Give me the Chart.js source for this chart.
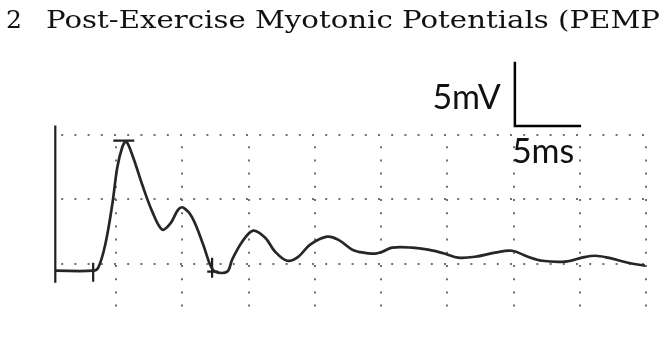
<!DOCTYPE html>
<html>
<head>
<meta charset="utf-8">
<script src="https://cdn.jsdelivr.net/npm/chart.js@4"></script>
<style>
  html, body { margin: 0; padding: 0; background: #fff; }
  #wrap { width: 666px; height: 346px; }
</style>
</head>
<body>
<div id="wrap"><canvas id="pempChart" width="666" height="346"></canvas></div>
<script>
// trace: time in ms, amplitude in mV
const waveT = [0.40, 3.26, 3.64, 4.17, 4.70, 5.08, 5.45, 5.75, 6.28, 6.96, 7.72, 8.47, 9.08, 9.68, 10.06,
  10.74, 11.57, 12.09, 12.47, 13.38, 13.75, 14.51, 15.34, 16.25, 17.00, 17.91, 18.74, 19.64, 20.92, 21.75,
  22.81, 23.27, 24.55, 25.08, 25.83, 27.34, 28.55, 29.83, 30.81, 32.09, 33.60, 34.88, 36.09, 37.15, 38.89,
  40.17, 41.15, 42.13, 43.64, 44.93];
const waveV = [-0.54, -0.54, -0.31, 1.48, 4.59, 7.47, 9.03, 9.49, 8.25, 6.15, 4.05, 2.65, 3.11, 4.20, 4.36,
  3.58, 1.48, -0.08, -0.62, -0.62, 0.31, 1.71, 2.57, 2.02, 0.93, 0.23, 0.54, 1.48, 2.10, 1.87,
  1.09, 0.93, 0.78, 0.93, 1.25, 1.25, 1.09, 0.78, 0.47, 0.54, 0.86, 1.01, 0.54, 0.23, 0.16,
  0.47, 0.62, 0.47, 0.08, -0.16];

// start line and cursor marks drawn on the trace (null breaks the line)
const markT = [0.40, 0.40, null, 3.26, 3.26, null, 4.78, 6.36, null, 12.24, 12.24, null, 11.87, 12.70];
const markV = [10.74, -1.48, null, 0.08, -1.40, null, 9.57, 9.57, null, 0.47, -1.09, null, -0.62, -0.62];

// calibration bar: 5 mV up, 5 ms across
const scaleBarT = [35.1, 35.1, 40.1];
const scaleBarV = [15.7, 10.7, 10.7];

const gridT = [0, 45];     // ms range, one division = 5 ms
const gridV = [-3.75, 10]; // mV range, one division = 5 mV

const titleNumber = "2";
const titleText = "Post-Exercise Myotonic Potentials (PEMP";
const voltLabel = "5mV";
const timeLabel = "5ms";

function toPoints(xs, ys) {
    return xs.map((t, i) => ({ x: t, y: ys[i] }));
}

const textPlugin = {
    id: "pempText",
    afterDraw(chart) {
        const ctx = chart.ctx;
        const xs = chart.scales.x;
        ctx.save();
        ctx.fillStyle = "#111";
        ctx.textBaseline = "alphabetic";
        ctx.font = "25px 'DejaVu Serif'";
        ctx.fillText(titleNumber, 6, 28);
        // the printed face is wider than DejaVu Serif, so stretch it a bit
        const w = ctx.measureText(titleText).width;
        const sx = (660 - 46) / w;
        ctx.save();
        ctx.translate(46, 28);
        ctx.scale(sx, 1);
        ctx.fillText(titleText, 0, 0);
        ctx.restore();
        ctx.font = "34px Lato";
        ctx.textAlign = "right";
        ctx.fillText(voltLabel, xs.getPixelForValue(scaleBarT[0]) - 14, 109);
        ctx.textAlign = "left";
        ctx.fillText(timeLabel, xs.getPixelForValue(scaleBarT[0]) - 3, 163);
        ctx.restore();
    }
};

const dotted = (ctx) => (ctx.tick && ctx.tick.value % 5 === 0 && ctx.tick.value !== 0) ? "#707070" : "rgba(0,0,0,0)";
const dottedY = (ctx) => (ctx.tick && ctx.tick.value % 5 === 0) ? "#707070" : "rgba(0,0,0,0)";

new Chart(document.getElementById("pempChart").getContext("2d"), {
    type: "line",
    data: {
        datasets: [
            {
                data: toPoints(waveT, waveV),
                borderColor: "#262626",
                borderWidth: 2.7,
                pointRadius: 0,
                tension: 0.35,
            },
            {
                data: toPoints(markT, markV),
                borderColor: "#1e1e1e",
                borderWidth: 2.2,
                pointRadius: 0,
                tension: 0,
                spanGaps: false,
                clip: false,
            },
            {
                data: toPoints(scaleBarT, scaleBarV),
                borderColor: "#000",
                borderWidth: 2.5,
                pointRadius: 0,
                tension: 0,
                clip: false,
            },
        ],
    },
    options: {
        responsive: false,
        animation: false,
        devicePixelRatio: 1,
        layout: { padding: { left: 50, right: 20, top: 135, bottom: 34 } },
        plugins: {
            legend: { display: false },
            tooltip: { enabled: false },
        },
        scales: {
            x: {
                type: "linear",
                min: gridT[0],
                max: gridT[1],
                ticks: { display: false, stepSize: 5 },
                grid: { color: dotted, lineWidth: 2, drawTicks: false },
                border: { display: false, dash: [2, 11.2], dashOffset: 2 },
            },
            y: {
                type: "linear",
                min: gridV[0],
                max: gridV[1],
                ticks: { display: false, stepSize: 5 },
                grid: { color: dottedY, lineWidth: 2, drawTicks: false },
                border: { display: false, dash: [2, 11.2], dashOffset: 2 },
            },
        },
    },
    plugins: [textPlugin],
});
</script>
</body>
</html>
